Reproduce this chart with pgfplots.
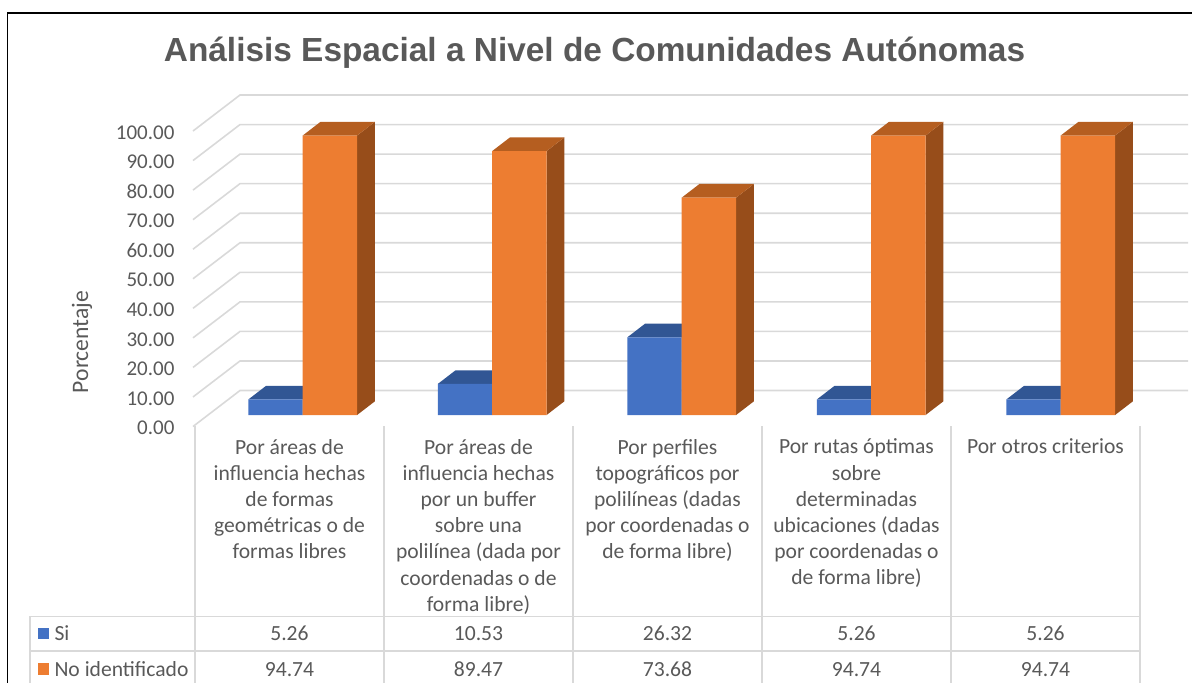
\documentclass[border=0pt]{standalone}
\usepackage{pgfplots}
\usepackage{pgfplotstable}
\usepackage{fontspec}
\pgfplotsset{compat=1.18}
\setmainfont{Carlito}
\newfontfamily\titlefont{Liberation Sans}
\definecolor{txt}{HTML}{595959}
\definecolor{gridc}{HTML}{D9D9D9}
\definecolor{bluef}{HTML}{4472C4}
\definecolor{bluet}{HTML}{315694}
\definecolor{blues}{HTML}{2A4A80}
\definecolor{orangef}{HTML}{ED7D31}
\definecolor{oranget}{HTML}{B55E20}
\definecolor{oranges}{HTML}{974D1A}
\pgfplotstableread{
x si no
0 5.26 94.74
1 10.53 89.47
2 26.32 73.68
3 5.26 94.74
4 5.26 94.74
}\datatable
\newcommand{\wall}[1]{%
  \pgfmathsetmacro{\vb}{#1+12.18}%
  \addplot[gridc,line width=1.6pt,no markers] coordinates {(193,#1) (240,\vb) (1188,\vb)};%
}
% x = group position, v = value, L/R = left/right edge offset of the bar
\newcommand{\barfaces}[5]{%
  \pgfmathsetmacro{\xl}{#1+#3}%
  \pgfmathsetmacro{\xr}{#1+#3+0.2871}%
  \pgfmathsetmacro{\xlb}{\xl+0.0939}%
  \pgfmathsetmacro{\xrb}{\xr+0.0939}%
  \pgfmathsetmacro{\vb}{#2+4.64}%
  \addplot[fill=#4,draw=none,no markers] coordinates {(\xr,0) (\xr,#2) (\xrb,\vb) (\xrb,4.64)} --cycle;%
  \addplot[fill=#5,draw=none,no markers] coordinates {(\xl,#2) (\xr,#2) (\xrb,\vb) (\xlb,\vb)} --cycle;%
}
\begin{document}
\begin{tikzpicture}[x=1pt,y=1pt]
\path[use as bounding box] (0,0) rectangle (1192,-683);
% frame
\draw[black,line width=1.8pt] (7.5,-683) -- (7.5,-13) -- (1192,-13);
% table rules
\begin{scope}[gridc,line width=1.6pt]
\foreach \x in {195,384,573,762,951,1140} \draw (\x,-426) -- (\x,-683);
\draw (30,-683) -- (30,-616.5) -- (1140,-616.5);
\draw (30,-651) -- (1140,-651);
\end{scope}
\begin{axis}[
  at={(193pt,-426.5pt)},anchor=south west,
  scale only axis,width=995pt,height=295.5pt,
  xmin=193,xmax=1188,ymin=0,ymax=100,
  clip=false,
  axis line style={draw=none},
  tick style={draw=none},
  major tick length=0pt,
  ytick={0,10,...,100},
  yticklabel style={
    /pgf/number format/.cd,fixed,fixed zerofill,precision=2,assume math mode=true,
    /tikz/.cd,font=\fontsize{21}{24}\selectfont,text=txt,xshift=-15pt,yshift=-1.5pt},
  ylabel={Porcentaje},
  ylabel style={at={(axis description cs:-0.1116,0.286)},anchor=center,rotate=0,font=\fontsize{23.6}{26}\selectfont,text=txt},
  xtick={289.5,478.5,667.5,856.5,1045.5},
  xticklabels={
    {Por áreas de\\influencia hechas\\de formas\\geométricas o de\\formas libres},
    {Por áreas de\\influencia hechas\\por un buffer\\sobre una\\polilínea (dada por\\coordenadas o de\\forma libre)},
    {Por perfiles\\topográficos por\\polilíneas (dadas\\por coordenadas o\\de forma libre)},
    {Por rutas óptimas\\sobre\\determinadas\\ubicaciones (dadas\\por coordenadas o\\de forma libre)},
    {Por otros criterios}},
  xticklabel style={align=center,anchor=north,yshift=-9pt,font=\fontsize{21.6}{26.2}\selectfont,text=txt},
]
\wall{0}\wall{10}\wall{20}\wall{30}\wall{40}\wall{50}\wall{60}\wall{70}\wall{80}\wall{90}\wall{100}
\end{axis}
\begin{axis}[
  at={(193pt,-415pt)},anchor=south west,
  scale only axis,width=995pt,height=295pt,
  xmin=-0.5789,xmax=4.6718,ymin=0,ymax=100,
  clip=false,hide axis,
]
\barfaces{0}{5.26}{-0.2871}{blues}{bluet}
\barfaces{1}{10.53}{-0.2871}{blues}{bluet}
\barfaces{2}{26.32}{-0.2871}{blues}{bluet}
\barfaces{3}{5.26}{-0.2871}{blues}{bluet}
\barfaces{4}{5.26}{-0.2871}{blues}{bluet}
\addplot[ybar,bar width=54.4pt,bar shift=-27.2pt,fill=bluef,draw=none] table[x=x,y=si] {\datatable};
\barfaces{0}{94.74}{0}{oranges}{oranget}
\barfaces{1}{89.47}{0}{oranges}{oranget}
\barfaces{2}{73.68}{0}{oranges}{oranget}
\barfaces{3}{94.74}{0}{oranges}{oranget}
\barfaces{4}{94.74}{0}{oranges}{oranget}
\addplot[ybar,bar width=54.4pt,bar shift=27.2pt,fill=orangef,draw=none] table[x=x,y=no] {\datatable};
\end{axis}
% title
\node[anchor=center,text=txt,font=\titlefont\bfseries\fontsize{33.4}{36}\selectfont] at (594.5,-53) {Análisis Espacial a Nivel de Comunidades Autónomas};
% data table
\fill[bluef] (38,-628) rectangle (49,-639);
\fill[orangef] (38,-663) rectangle (49,-675);
\begin{scope}[every node/.style={text=txt,font=\fontsize{21.6}{24}\selectfont,anchor=base}]
\node[anchor=base west] at (51,-640.5) {Si};
\node[anchor=base west] at (51,-676) {No identificado};
\node at (289.5,-640.5) {5.26};
\node at (478.5,-640.5) {10.53};
\node at (667.5,-640.5) {26.32};
\node at (856.5,-640.5) {5.26};
\node at (1045.5,-640.5) {5.26};
\node at (289.5,-676) {94.74};
\node at (478.5,-676) {89.47};
\node at (667.5,-676) {73.68};
\node at (856.5,-676) {94.74};
\node at (1045.5,-676) {94.74};
\end{scope}
\end{tikzpicture}
\end{document}
